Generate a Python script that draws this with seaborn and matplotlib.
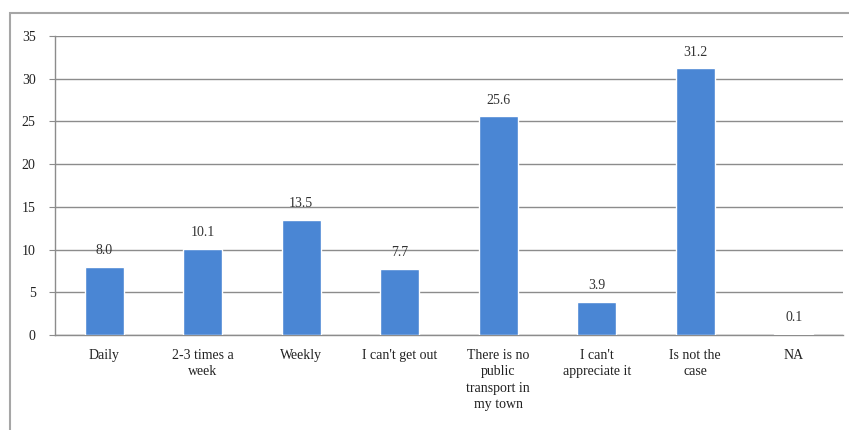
import pandas as pd
import seaborn as sns
import matplotlib.pyplot as plt
from matplotlib.patches import Rectangle

categories = ["Daily", "2-3 times a\nweek", "Weekly", "I can't get out",
              "There is no\npublic\ntransport in\nmy town", "I can't\nappreciate it",
              "Is not the\ncase", "NA"]
values = [8.0, 10.1, 13.5, 7.7, 25.6, 3.9, 31.2, 0.1]
labels = ["8.0", "10.1", "13.5", "7.7", "25.6", "3.9", "31.2", "0.1"]

df = pd.DataFrame({"answer": categories, "share": values})

sns.set_style("white")
plt.rcParams["font.family"] = ["Liberation Serif", "DejaVu Serif"]

fig = plt.figure(figsize=(8.49, 4.30), dpi=100)
# outer chart frame
fig.patches.append(Rectangle((10 / 849, -0.05), 1.0, 1 - 13 / 430 + 0.05,
                             transform=fig.transFigure, fill=False,
                             edgecolor="#a6a6a6", linewidth=1.5))
ax = fig.add_axes([55 / 849, 1 - 335 / 430, (843 - 55) / 849, (335 - 36) / 430])

sns.barplot(data=df, x="answer", y="share", color="#4a86d4", width=0.4,
            saturation=1, ax=ax, zorder=3)

for i, (v, t) in enumerate(zip(values, labels)):
    ax.text(i, v + 1.9, t, ha="center", va="center", fontsize=10, color="#333333")

ax.set_ylim(0, 35)
ax.set_xlim(-0.5, 7.5)
ax.set_yticks(range(0, 36, 5))
ax.grid(axis="y", color="#8c8c8c", linewidth=1, zorder=0)
ax.set_axisbelow(True)
ax.set_xlabel("")
ax.set_ylabel("")

for s in ["top", "right"]:
    ax.spines[s].set_visible(False)
for s in ["left", "bottom"]:
    ax.spines[s].set_color("#8c8c8c")
    ax.spines[s].set_linewidth(1)

ax.set_xticks([x - 0.5 for x in range(9)], minor=True)
ax.tick_params(axis="x", which="major", length=0, pad=10, labelsize=10, labelcolor="#222222")
ax.tick_params(axis="x", which="minor", length=4, color="#8c8c8c", direction="out")
ax.tick_params(axis="y", length=4, color="#8c8c8c", direction="out", labelsize=10,
               labelcolor="#222222", left=True, pad=10)
for lab in ax.get_xticklabels():
    lab.set_verticalalignment("top")
    lab.set_linespacing(1.35)

plt.savefig("out.png", dpi=100)
